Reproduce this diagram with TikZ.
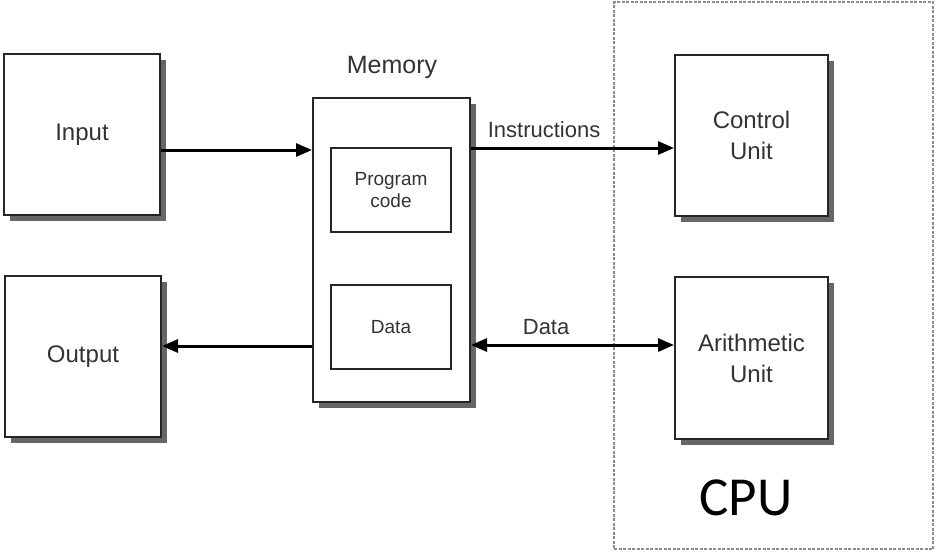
\documentclass[tikz,border=0pt]{standalone}
\usepackage{fontspec}
\setmainfont{Liberation Sans}
\newfontfamily\cpufont{Carlito}
\usetikzlibrary{positioning, arrows.meta, shadows, calc}

\tikzset{
    unit/.style={draw=black!85, line width=2pt, fill=white,
        minimum width=156pt, minimum height=161pt, align=center,
        font=\fontsize{24}{31}\selectfont, text=black!80,
        drop shadow={shadow xshift=6pt, shadow yshift=-6pt, fill=black!60, opacity=1}},
    part/.style={draw=black!85, line width=2pt, fill=white,
        minimum width=120pt, minimum height=84pt, align=center,
        font=\fontsize{19}{22}\selectfont, text=black!80},
    tag/.style={font=\fontsize{22}{24}\selectfont, text=black!80},
    flow/.style={line width=3pt, -{Triangle[length=16pt, width=13pt]}},
    both/.style={line width=3pt, {Triangle[length=16pt, width=13pt]}-{Triangle[length=16pt, width=13pt]}},
}

\begin{document}
\begin{tikzpicture}[x=1pt, y=-1pt]
        \useasboundingbox (0,0) rectangle (936,552);

        % cpu frame
        \node[draw=black!45, line width=1.5pt, dash pattern=on 3pt off 1.5pt,
            minimum width=319pt, minimum height=547pt] (cpu) at (773.5,275.5) {};
        \node[font=\cpufont\fontsize{55}{60}\selectfont] (cpulabel) at (746,498) {CPU};

        % outer boxes
        \node[unit] (input) at (82,134.5) {Input};
        \node[unit] (output) at (83,356.5) {Output};
        \node[unit, minimum width=153pt] (ctrl) at (751.5,135.5) {Control\\Unit};
        \node[unit, minimum width=153pt, minimum height=162pt] (alu) at (751.5,358) {Arithmetic\\Unit};

        % memory with its two parts
        \node[unit, minimum width=157pt, minimum height=304pt] (mem) at (391.5,250) {};
        \node[tag, font=\fontsize{25}{28}\selectfont] (memlabel) at (392,67) {Memory};
        \node[part] (prog) at (391,190) {Program\\code};
        \node[part] (memdata) at (391,327) {Data};

        % connectors
        \coordinate (inA) at ($(input.east)+(0,15.5)$);
        \coordinate (outA) at ($(mem.west)+(0,96)$);
        \coordinate (insA) at ($(ctrl.west)+(0,12.5)$);
        \coordinate (datA) at ($(alu.west)+(0,-13)$);
        \draw[flow] (inA) -- (inA -| mem.west);
        \draw[flow] (outA) -- (outA -| output.east);
        \draw[flow] (insA -| mem.east) -- node[tag, above=5pt, pos=0.36] (instr) {Instructions} (insA);
        \draw[both] (datA -| mem.east) -- node[tag, above=5pt, pos=0.37] (datalabel) {Data} (datA);
    \end{tikzpicture}
\end{document}
